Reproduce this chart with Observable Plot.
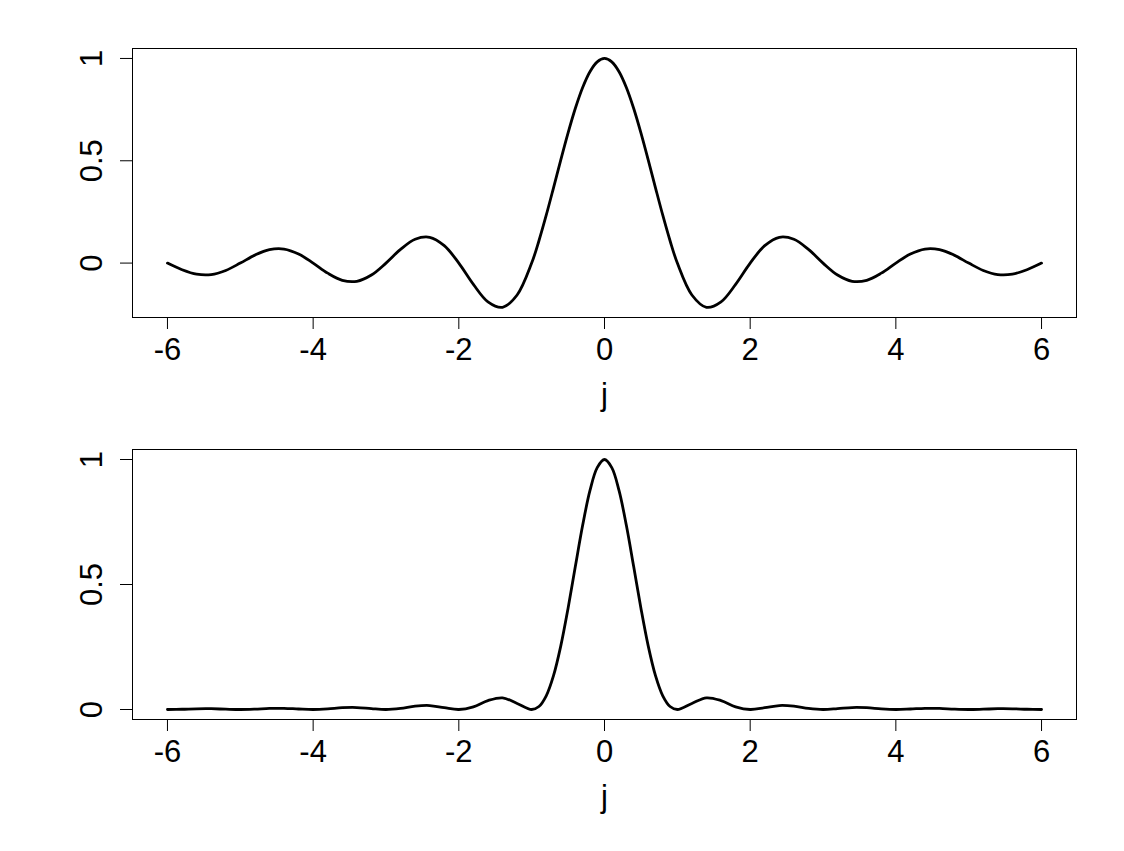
<!DOCTYPE html>
<html>
<head>
<meta charset="utf-8">
<script src="https://cdn.jsdelivr.net/npm/d3@7"></script>
<script src="https://cdn.jsdelivr.net/npm/@observablehq/plot@0.6"></script>
<style>
  html, body { margin: 0; padding: 0; background: #fff; }
  #chart svg { display: block; }
</style>
</head>
<body>
<div id="chart"></div>
<script>
// Sample positions along j
const jValues = [
  -6, -5.8, -5.6, -5.4, -5.2, -5, -4.8, -4.6, -4.4, -4.2, -4, -3.8, -3.6, -3.4, -3.2, -3, -2.8, -2.6, -2.4, -2.2, -2, -1.8, -1.6, -1.4, -1.2,
  -1, -0.9, -0.8, -0.7, -0.6, -0.5, -0.4, -0.3, -0.2, -0.1, 0, 0.1, 0.2, 0.3, 0.4, 0.5, 0.6, 0.7, 0.8, 0.9, 1,
  1.2, 1.4, 1.6, 1.8, 2, 2.2, 2.4, 2.6, 2.8, 3, 3.2, 3.4, 3.6, 3.8, 4, 4.2, 4.4, 4.6, 4.8, 5, 5.2, 5.4, 5.6, 5.8, 6
];
// Top panel values
const topValues = [
  0, -0.0323, -0.0541, -0.0561, -0.0360, 0, 0.0390, 0.0658, 0.0688, 0.0445, 0, -0.0492, -0.0841, -0.0890, -0.0585, 0, 0.0668, 0.1164, 0.1261, 0.0850, 0, -0.1039, -0.1892, -0.2162, -0.1559,
  0, 0.1093, 0.2339, 0.3679, 0.5046, 0.6366, 0.7568, 0.8584, 0.9355, 0.9836, 1, 0.9836, 0.9355, 0.8584, 0.7568, 0.6366, 0.5046, 0.3679, 0.2339, 0.1093, 0,
  -0.1559, -0.2162, -0.1892, -0.1039, 0, 0.0850, 0.1261, 0.1164, 0.0668, 0, -0.0585, -0.0890, -0.0841, -0.0492, 0, 0.0445, 0.0688, 0.0658, 0.0390, 0, -0.0360, -0.0561, -0.0541, -0.0323, 0
];
// Bottom panel values
const bottomValues = [
  0, 0.0010, 0.0029, 0.0031, 0.0013, 0, 0.0015, 0.0043, 0.0047, 0.0020, 0, 0.0024, 0.0071, 0.0079, 0.0034, 0, 0.0045, 0.0135, 0.0159, 0.0072, 0, 0.0108, 0.0358, 0.0467, 0.0243,
  0, 0.0119, 0.0547, 0.1353, 0.2546, 0.4053, 0.5727, 0.7368, 0.8751, 0.9675, 1, 0.9675, 0.8751, 0.7368, 0.5727, 0.4053, 0.2546, 0.1353, 0.0547, 0.0119, 0,
  0.0243, 0.0467, 0.0358, 0.0108, 0, 0.0072, 0.0159, 0.0135, 0.0045, 0, 0.0034, 0.0079, 0.0071, 0.0024, 0, 0.0020, 0.0047, 0.0043, 0.0015, 0, 0.0013, 0.0031, 0.0029, 0.0010, 0
];
const xTicks = [-6, -4, -2, 0, 2, 4, 6];
const yTicks = [0, 0.5, 1];
const xLabel = "j";

const FONT = "'Liberation Sans', Arial, sans-serif";
const FS = 31;

function panel(values, yDomain, marginTop, marginBottom, height) {
  const data = jValues.map((j, i) => ({j, v: values[i]}));
  return Plot.plot({
    width: 1124,
    height,
    marginLeft: 132,
    marginRight: 48,
    marginTop,
    marginBottom,
    style: {fontFamily: FONT, background: "#fff", overflow: "visible"},
    x: {domain: [-6.48, 6.48]},
    y: {domain: yDomain},
    marks: [
      Plot.frame({stroke: "#000", strokeWidth: 1}),
      Plot.axisX(xTicks, {tickSize: 12, tickPadding: 8, fontSize: FS, tickFormat: d => String(d), label: null, stroke: "#000", color: "#000"}),
      Plot.axisY(yTicks, {tickSize: 12, tickFormat: () => "", label: null, stroke: "#000"}),
      Plot.text(yTicks, {y: d => d, text: d => String(d), frameAnchor: "left", dx: -40, rotate: -90, textAnchor: "middle", fontSize: FS, fill: "#000"}),
      Plot.text([xLabel], {text: d => d, frameAnchor: "bottom", dy: 87, fontSize: FS, fill: "#000"}),
      Plot.line(data, {x: "j", y: "v", stroke: "#000", strokeWidth: 2.8, curve: "catmull-rom"})
    ]
  });
}

const chart = document.getElementById("chart");
chart.appendChild(panel(topValues, [-0.2659, 1.0487], 48, 109, 426));
chart.appendChild(panel(bottomValues, [-0.04, 1.04], 23, 132, 425));
</script>
</body>
</html>
